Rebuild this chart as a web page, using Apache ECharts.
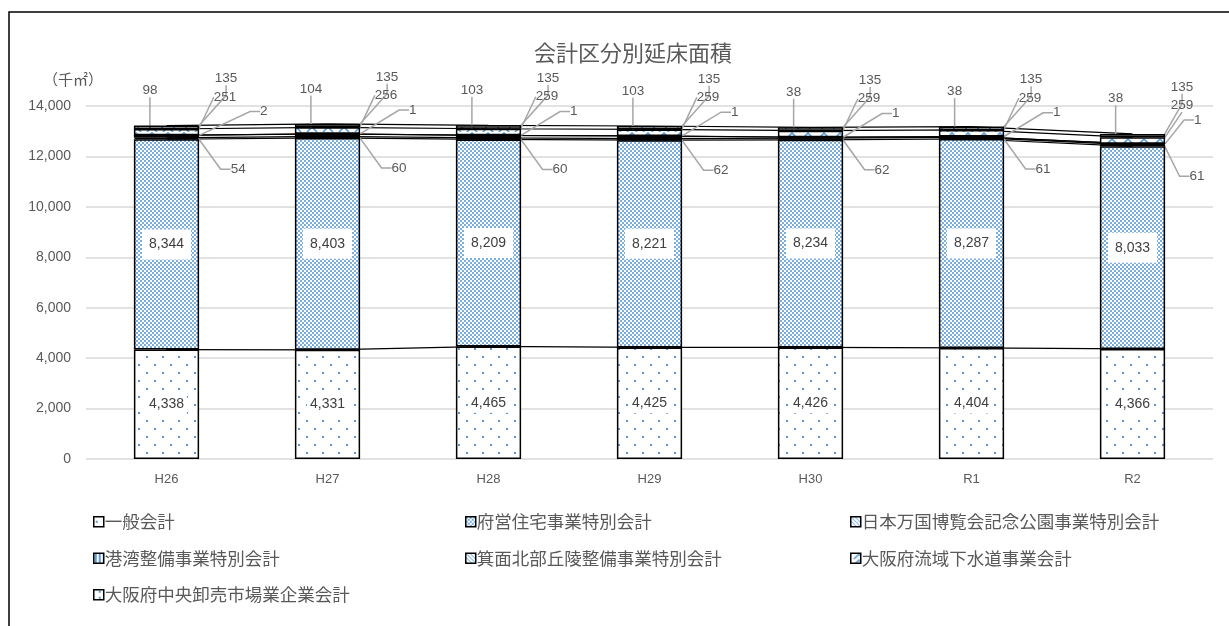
<!DOCTYPE html>
<html><head><meta charset="utf-8">
<script src="https://cdn.jsdelivr.net/npm/echarts@6/dist/echarts.min.js"></script>
<style>html,body{margin:0;padding:0;background:#fff}#c{width:1229px;height:626px}</style>
</head><body><div id="c"></div>
<script>
const categories = ['H26', 'H27', 'H28', 'H29', 'H30', 'R1', 'R2'];
const seriesNames = ['一般会計', '府営住宅事業特別会計', '日本万国博覧会記念公園事業特別会計', '港湾整備事業特別会計', '箕面北部丘陵整備事業特別会計', '大阪府流域下水道事業会計', '大阪府中央卸売市場業企業会計'];
const ippan = [4338, 4331, 4465, 4425, 4426, 4404, 4366];
const fuei = [8344, 8403, 8209, 8221, 8234, 8287, 8033];
const banpaku = [54, 60, 60, 62, 62, 61, 61];
const kowan = [98, 104, 103, 103, 38, 38, 38];
const mino = [2, 1, 1, 1, 1, 1, 1];
const gesui = [251, 256, 259, 259, 259, 259, 259];
const shijo = [135, 135, 135, 135, 135, 135, 135];
const yTicks = [0, 2000, 4000, 6000, 8000, 10000, 12000, 14000];
const unitLabel = '（千㎡）';
const titleText = '会計区分別延床面積';

const values = [ippan, fuei, banpaku, kowan, mino, gesui, shijo];
const BLUE = '#5b9bd5';
const FONT = '"Liberation Sans", Arial, "Noto Sans CJK JP", sans-serif';
const JFONT = '"Noto Sans CJK JP", "Liberation Sans", sans-serif';
const TXT = '#595959';

function tile(w, h, draw) {
  const c = document.createElement('canvas');
  c.width = w; c.height = h;
  const g = c.getContext('2d');
  g.fillStyle = '#fff'; g.fillRect(0, 0, w, h);
  g.fillStyle = BLUE; g.strokeStyle = BLUE;
  draw(g);
  return { image: c, repeat: 'repeat' };
}
const patDots = tile(16, 16, g => { g.fillRect(2, 4, 2, 2); g.fillRect(10, 12, 2, 2); });
const patCheck = tile(4, 4, g => { g.fillStyle = '#7aaee0'; g.fillRect(0, 0, 2, 2); g.fillRect(2, 2, 2, 2); });
const patDiag = tile(4, 4, g => { g.fillRect(0, 0, 1, 1); g.fillRect(1, 1, 1, 1); g.fillRect(2, 2, 1, 1); g.fillRect(3, 3, 1, 1); });
const patVert = tile(4, 4, g => { g.fillRect(1, 0, 2, 4); });
const patWave = tile(16, 6, g => { g.lineWidth = 1.6; g.beginPath(); g.moveTo(3, 6); g.lineTo(8, 1); g.lineTo(13, 6); g.stroke(); });
const patSparse = tile(12, 6, g => { g.fillRect(5, 1, 2, 2); });
const fills = [patDots, patCheck, patDiag, patVert, patDiag, patWave, patSparse];

// label offsets (relative to each segment's rect)
function outerLayout(kind) {
  return function (p) {
    const r = p.rect;
    const last = p.dataIndex === categories.length - 1;
    const first = p.dataIndex === 0;
    const right = r.x + r.width;
    let x, y;
    if (kind === 'banpaku') { x = right + (last ? 32 : 39); y = r.y + r.height + 30; }
    else if (kind === 'kowan') { x = r.x + 16; y = r.y - 45; }
    else if (kind === 'mino') { x = right + (last ? 32 : (first ? 64 : 52)); y = r.y - 23; }
    else if (kind === 'gesui') { x = right + (last ? 17 : 26); y = r.y - 32; }
    else { x = right + (last ? 17 : 27); y = r.y - 47; }
    return { x: x, y: y, align: 'center', verticalAlign: 'middle' };
  };
}
const kinds = [null, null, 'banpaku', 'kowan', 'mino', 'gesui', 'shijo'];
const lineLen2 = { banpaku: 10, kowan: 0, mino: 10, gesui: 0, shijo: 10 };

const barSeries = seriesNames.map((name, i) => {
  const s = {
    name: name, type: 'bar', stack: 'total', data: values[i], barWidth: '40.5%', z: 3,
    itemStyle: { color: fills[i], borderColor: '#000', borderWidth: 1.5 },
    emphasis: { disabled: true },
  };
  if (i === 0) {
    s.label = { show: true, position: 'inside', color: '#404040', fontSize: 14, fontFamily: FONT,
      formatter: p => p.value.toLocaleString('en-US'), backgroundColor: '#fff', padding: [3, 3] };
  } else if (i === 1) {
    s.label = { show: true, position: 'inside', color: '#404040', fontSize: 14, fontFamily: FONT,
      formatter: p => p.value.toLocaleString('en-US'), backgroundColor: '#fff', padding: [8, 7] };
  } else {
    s.label = { show: true, position: 'right', color: TXT, fontSize: 13.5, fontFamily: FONT,
      formatter: p => p.value.toLocaleString('en-US') };
    s.labelLayout = outerLayout(kinds[i]);
    s.labelLine = { show: true, length2: lineLen2[kinds[i]], lineStyle: { color: '#a6a6a6', width: 1.5 } };
  }
  return s;
});
const lineSeries = seriesNames.map((name, i) => ({
  name: name + ' 系列線', type: 'line', stack: 'lines', data: values[i], z: 1, silent: true,
  symbol: 'none', lineStyle: { color: '#000', width: 1.2 }, itemStyle: { color: '#000' }
}));

const legendBase = {
  orient: 'vertical', top: 508, itemWidth: 10, itemHeight: 10, itemGap: 19, icon: 'rect',
  textStyle: { color: TXT, fontSize: 17.5, fontFamily: JFONT, padding: [0, 0, 0, -4] },
  itemStyle: { borderColor: '#000', borderWidth: 1.5 }, selectedMode: false
};

const chart = echarts.init(document.getElementById('c'), null, { renderer: 'canvas' });
chart.setOption({
  animation: false,
  backgroundColor: '#fff',
  title: { text: titleText, left: 628, top: 37, textAlign: 'center',
    textStyle: { color: TXT, fontSize: 22, fontWeight: 'normal', fontFamily: JFONT } },
  grid: { left: 86, right: 16, top: 106, bottom: 167, containLabel: false },
  xAxis: { type: 'category', data: categories, axisLine: { show: false }, axisTick: { show: false },
    axisLabel: { color: TXT, fontSize: 13, fontFamily: FONT, margin: 14 } },
  yAxis: { type: 'value', min: yTicks[0], max: yTicks[yTicks.length - 1], interval: yTicks[1] - yTicks[0],
    axisLine: { show: false }, axisTick: { show: false },
    splitLine: { lineStyle: { color: '#d9d9d9', width: 1.5 } },
    axisLabel: { color: TXT, fontSize: 14, fontFamily: FONT, margin: 15,
      formatter: v => v.toLocaleString('en-US') } },
  legend: [
    Object.assign({}, legendBase, { left: 88, data: [seriesNames[0], seriesNames[3], seriesNames[6]] }),
    Object.assign({}, legendBase, { left: 460, data: [seriesNames[1], seriesNames[4]] }),
    Object.assign({}, legendBase, { left: 845, data: [seriesNames[2], seriesNames[5]] })
  ],
  graphic: [
    { type: 'text', left: 43, top: 72, style: { text: unitLabel, fill: TXT, font: '15px ' + JFONT } },
    { type: 'polyline', shape: { points: [[9, 626], [9, 12], [1229, 12]] }, style: { stroke: '#000', lineWidth: 1.5, fill: null } }
  ],
  series: lineSeries.concat(barSeries)
});
</script></body></html>
